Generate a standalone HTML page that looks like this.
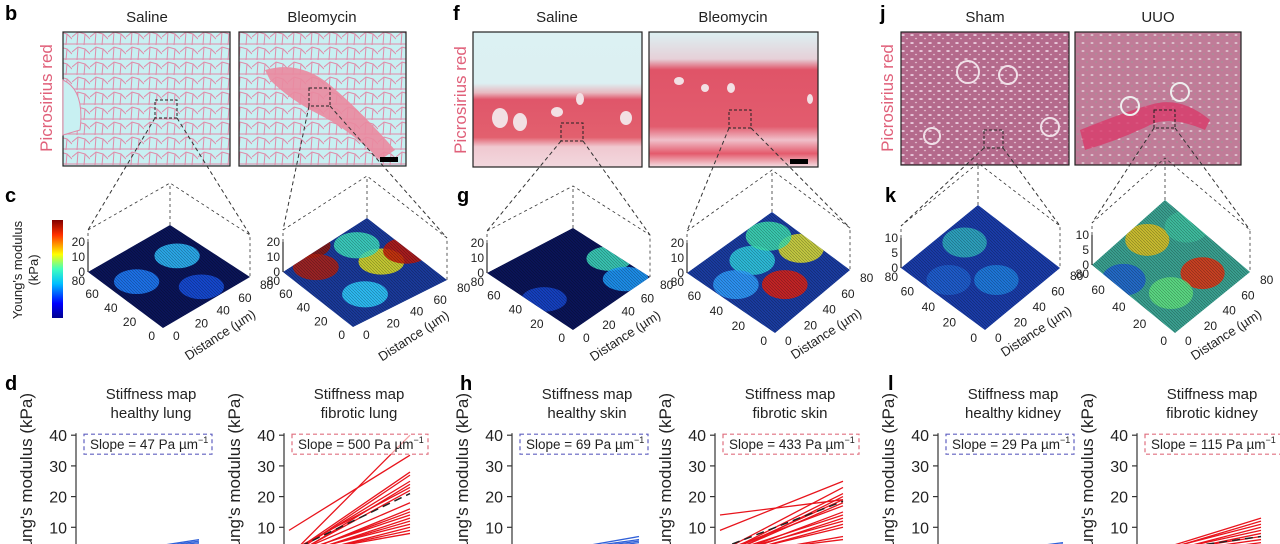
<!DOCTYPE html>
<html><head><meta charset="utf-8"><style>
html,body{margin:0;padding:0;background:#fff;width:1280px;height:544px;overflow:hidden}
svg{display:block;font-family:"Liberation Sans",sans-serif}
</style></head><body>
<svg id="fig" width="1280" height="544" viewBox="0 0 1280 544">
<defs>
<linearGradient id="jet" x1="0" y1="1" x2="0" y2="0">
<stop offset="0" stop-color="#00008f"/><stop offset="0.15" stop-color="#0000ff"/><stop offset="0.35" stop-color="#00bfff"/><stop offset="0.5" stop-color="#40ffbf"/><stop offset="0.65" stop-color="#ffff00"/><stop offset="0.85" stop-color="#ff3000"/><stop offset="1" stop-color="#800000"/></linearGradient>
<linearGradient id="skinA" x1="0" y1="0" x2="0" y2="1">
<stop offset="0" stop-color="#dcf1f3"/><stop offset="0.38" stop-color="#dcf0f2"/><stop offset="0.45" stop-color="#e8b8c0"/><stop offset="0.5" stop-color="#e0566a"/><stop offset="0.78" stop-color="#e2606e"/><stop offset="0.85" stop-color="#f0c8d0"/><stop offset="1" stop-color="#f2d8de"/></linearGradient>
<linearGradient id="skinB" x1="0" y1="0" x2="0" y2="1">
<stop offset="0" stop-color="#dcf0f2"/><stop offset="0.2" stop-color="#e6d0d8"/><stop offset="0.28" stop-color="#e05468"/><stop offset="0.7" stop-color="#e25c6e"/><stop offset="0.8" stop-color="#f0c0ca"/><stop offset="0.9" stop-color="#e45a6c"/><stop offset="1" stop-color="#f4e0e4"/></linearGradient>
<pattern id="alv" width="18" height="15" patternUnits="userSpaceOnUse">
<rect width="18" height="15" fill="#c8f0f2"/><path d="M0 7 L6 2 L13 4 L18 9 M6 2 L5 15 M13 4 L12 15 M0 14 L18 14" stroke="#e08aa8" stroke-width="1" fill="none"/></pattern>
<pattern id="kid" width="9" height="8" patternUnits="userSpaceOnUse">
<rect width="9" height="8" fill="#b46a8c"/><ellipse cx="3" cy="3" rx="1.8" ry="1" fill="#e8c8da"/><ellipse cx="7" cy="6.5" rx="1.2" ry="0.8" fill="#dcb4c8"/></pattern>
<pattern id="kid2" width="9" height="8" patternUnits="userSpaceOnUse">
<rect width="9" height="8" fill="#c07c98"/><ellipse cx="3" cy="3" rx="1.5" ry="1" fill="#dcc0cc"/><ellipse cx="7" cy="6" rx="1.2" ry="0.8" fill="#a89098"/></pattern>
<pattern id="mesh" width="3" height="3" patternUnits="userSpaceOnUse"><path d="M0 0 L3 3" stroke="#000" stroke-opacity="0.35" stroke-width="0.6"/></pattern>
</defs>
<g id="static">
<text x="5" y="20" font-size="20" font-weight="bold">b</text>
<text x="453" y="20" font-size="20" font-weight="bold">f</text>
<text x="880" y="20" font-size="20" font-weight="bold">j</text>
<text x="5" y="202" font-size="20" font-weight="bold">c</text>
<text x="457" y="202" font-size="20" font-weight="bold">g</text>
<text x="885" y="202" font-size="20" font-weight="bold">k</text>
<text x="5" y="390" font-size="20" font-weight="bold">d</text>
<text x="460" y="390" font-size="20" font-weight="bold">h</text>
<text x="888" y="390" font-size="20" font-weight="bold">l</text>
<g font-size="15" text-anchor="middle" fill="#222">
<text x="147" y="22">Saline</text>
<text x="322" y="22">Bleomycin</text>
<text x="557" y="22">Saline</text>
<text x="733" y="22">Bleomycin</text>
<text x="985" y="22">Sham</text>
<text x="1158" y="22">UUO</text>
</g>
<g font-size="17" fill="#e0607a" text-anchor="middle">
<text transform="translate(52,98) rotate(-90)">Picrosirius red</text>
<text transform="translate(466,100) rotate(-90)">Picrosirius red</text>
<text transform="translate(893,98) rotate(-90)">Picrosirius red</text>
</g>
<g><rect x="63" y="32" width="167" height="134" fill="url(#alv)" stroke="#222" stroke-width="1.2"/>
<path d="M63 80 Q85 90 80 130 L63 135Z" fill="#c8f0f2" stroke="#e08aa8"/></g>
<g><rect x="239" y="32" width="167" height="134" fill="url(#alv)"/>
<path d="M265 70 Q300 60 330 85 Q360 110 395 150 L380 160 Q350 130 320 115 Q290 100 270 80Z" fill="#ea8aa0" opacity="0.9"/>
<rect x="239" y="32" width="167" height="134" fill="none" stroke="#222" stroke-width="1.2"/><rect x="380" y="157" width="18" height="5" fill="#000"/></g>
<g><rect x="473" y="32" width="169" height="135" fill="url(#skinA)" stroke="#222" stroke-width="1.2"/>
<ellipse cx="500" cy="118" rx="8" ry="10" fill="#f2e0e4"/><ellipse cx="520" cy="122" rx="7" ry="9" fill="#f2e0e4"/><ellipse cx="557" cy="112" rx="6" ry="5" fill="#f2e0e4"/><ellipse cx="580" cy="99" rx="4" ry="6" fill="#f2e0e4"/><ellipse cx="626" cy="118" rx="6" ry="7" fill="#f2e0e4"/></g>
<g><rect x="649" y="32" width="169" height="135" fill="url(#skinB)" stroke="#222" stroke-width="1.2"/>
<ellipse cx="679" cy="81" rx="5" ry="4" fill="#f2e0e4"/><ellipse cx="705" cy="88" rx="4" ry="4" fill="#f2e0e4"/><ellipse cx="731" cy="88" rx="4" ry="5" fill="#f2e0e4"/><ellipse cx="810" cy="99" rx="3" ry="5" fill="#f2e0e4"/><rect x="790" y="159" width="18" height="5" fill="#000"/></g>
<g><rect x="901" y="32" width="168" height="133" fill="url(#kid)" stroke="#222" stroke-width="1.2"/>
<circle cx="968" cy="72" r="11" fill="none" stroke="#f0e0e8" stroke-width="2"/><circle cx="1008" cy="75" r="9" fill="none" stroke="#f0e0e8" stroke-width="2"/><circle cx="1050" cy="127" r="9" fill="none" stroke="#f0e0e8" stroke-width="2"/><circle cx="932" cy="136" r="8" fill="none" stroke="#f0e0e8" stroke-width="2"/></g>
<g><rect x="1075" y="32" width="166" height="133" fill="url(#kid2)"/>
<path d="M1080 130 Q1130 110 1150 105 Q1180 95 1210 120 L1205 130 Q1170 115 1150 125 Q1120 140 1085 150Z" fill="#d83a6a" opacity="0.8"/>
<circle cx="1130" cy="106" r="9" fill="none" stroke="#eee" stroke-width="2"/><circle cx="1180" cy="92" r="9" fill="none" stroke="#eee" stroke-width="2"/>
<rect x="1075" y="32" width="166" height="133" fill="none" stroke="#222" stroke-width="1.2"/></g>
<rect x="52" y="220" width="11" height="98" fill="url(#jet)"/>
<text transform="translate(22,270) rotate(-90)" font-size="13" text-anchor="middle" fill="#222">Young's modulus</text>
<text transform="translate(38,270) rotate(-90)" font-size="13" text-anchor="middle" fill="#222">(kPa)</text>
</g>
<g id="surfaces"></g>
<g id="charts"></g>
</svg>
<script>
const NS="http://www.w3.org/2000/svg";
const fig=document.getElementById('fig');
function mk(tag,at,parent){const e=document.createElementNS(NS,tag);for(const k in at)e.setAttribute(k,at[k]);(parent||fig).appendChild(e);return e;}

const surfNames=['lung-saline-surface','lung-bleomycin-surface','skin-saline-surface','skin-bleomycin-surface','kidney-sham-surface','kidney-uuo-surface'];
const surfCorners=[
 [[88,272],[170,225],[250,277],[163,328]],
 [[283,272],[367,218],[447,280],[353,327]],
 [[487,273],[573,228],[650,277],[573,330]],
 [[687,273],[772,212],[850,270],[775,333]],
 [[901,268],[978,205],[1060,268],[985,330]],
 [[1092,265],[1165,200],[1250,272],[1175,333]]];
const surfBase=['#0a1458','#1a3a9a','#0a1458','#1a3ca0','#1a3ca8','#3aa090'];
const surfZmax=['20','20','20','20','10','10'];
const surfImg=[[63,230,155,177,100],[239,406,309,330,88],[473,642,561,583,123],[649,818,729,751,110],[901,1069,984,1003,130],[1075,1241,1154,1175,110]];
const blobs=[
 [[0.55,0.3,'#30c0ff'],[0.3,0.55,'#2080ff'],[0.7,0.6,'#1850e0']],
 [[0.15,0.25,'#901808'],[0.2,0.45,'#b02010'],[0.6,0.4,'#e0e020'],[0.5,0.7,'#30d0ff'],[0.75,0.3,'#c01808'],[0.45,0.25,'#40e0c0']],
 [[0.75,0.3,'#40e0c0'],[0.85,0.5,'#20a0ff'],[0.35,0.7,'#1848d0']],
 [[0.6,0.6,'#e02010'],[0.4,0.4,'#30d0e0'],[0.7,0.3,'#e0e030'],[0.3,0.6,'#30a0ff'],[0.5,0.2,'#40e0b0']],
 [[0.4,0.3,'#30b0c0'],[0.6,0.6,'#2080e0'],[0.3,0.6,'#2060d0']],
 [[0.7,0.55,'#e03010'],[0.35,0.3,'#e0c020'],[0.5,0.7,'#60e080'],[0.2,0.6,'#2060d0'],[0.6,0.2,'#40c0a0']]];
const sg=document.getElementById('surfaces');
surfCorners.forEach((c,i)=>{
 const g=mk('g',{},sg);
 
 
 const [L,T,R,B]=c, h=30;
 const up=p=>[p[0],p[1]-h-12];
 const im=surfImg[i];
 mk('rect',{x:im[2],y:im[4],width:im[3]-im[2],height:18,fill:'none',stroke:'#222','stroke-dasharray':'3 2'},g);
 mk('line',{x1:im[2],y1:im[4]+18,x2:up(L)[0],y2:up(L)[1],stroke:'#333','stroke-dasharray':'4 3','stroke-width':1},g);
 mk('line',{x1:im[3],y1:im[4]+18,x2:up(R)[0],y2:up(R)[1],stroke:'#333','stroke-dasharray':'4 3','stroke-width':1},g);
 const uL=up(L),uT=up(T),uR=up(R);
 mk('polyline',{points:[L,uL,uT,uR,R].map(p=>p.join(',')).join(' '),fill:'none',stroke:'#333','stroke-dasharray':'3 3','stroke-width':0.8},g);
 mk('line',{x1:T[0],y1:T[1],x2:uT[0],y2:uT[1],stroke:'#333','stroke-dasharray':'3 3','stroke-width':0.8},g);
 const pts=[L,T,R,B].map(p=>p.join(',')).join(' ');
 const cid='clip'+i;
 const cp=mk('clipPath',{id:cid},g); mk('polygon',{points:pts},cp);
 mk('polygon',{points:pts,fill:surfBase[i]},g);
 const bg=mk('g',{'clip-path':'url(#'+cid+')'},g);
 blobs[i].forEach(b=>{
   const x=L[0]+(R[0]-L[0])*b[0], y=T[1]+(B[1]-T[1])*b[1];
   mk('ellipse',{cx:x,cy:y,rx:(R[0]-L[0])*0.14,ry:(B[1]-T[1])*0.12,fill:b[2],opacity:0.85},bg);
 });
 mk('polygon',{points:pts,fill:'url(#mesh)'},g);
 mk('line',{x1:L[0],y1:L[1],x2:L[0],y2:L[1]-h,stroke:'#000'},g);
 [['0',0],[surfZmax[i]==='20'?'10':'5',0.5],[surfZmax[i],1]].forEach(t=>{
   mk('text',{x:L[0]-3,y:L[1]-h*t[1]+4,'font-size':12,'text-anchor':'end',fill:'#222'},g).textContent=t[0];
 });
 mk('text',{x:L[0]-3,y:L[1]+13,'font-size':12,'text-anchor':'end',fill:'#222'},g).textContent='80';
 ['60','40','20','0'].forEach((t,k)=>{const f=(k+1)/4;
   mk('text',{x:L[0]+(B[0]-L[0])*f-8,y:L[1]+(B[1]-L[1])*f+12,'font-size':12,'text-anchor':'end',fill:'#222'},g).textContent=t;});
 ['0','20','40','60','80'].forEach((t,k)=>{const f=k/4;
   mk('text',{x:B[0]+(R[0]-B[0])*f+10,y:B[1]+(R[1]-B[1])*f+12,'font-size':12,'text-anchor':'start',fill:'#222'},g).textContent=t;});
 const mx=(B[0]+R[0])/2+16,my=(B[1]+R[1])/2+36;
 mk('text',{transform:`translate(${mx},${my}) rotate(-33)`,'font-size':13,'text-anchor':'middle',fill:'#222'},g).textContent='Distance (µm)';
});

const chartNames=['healthy-lung-chart','fibrotic-lung-chart','healthy-skin-chart','fibrotic-skin-chart','healthy-kidney-chart','fibrotic-kidney-chart'];
const chartTitles=['healthy lung','fibrotic lung','healthy skin','fibrotic skin','healthy kidney','fibrotic kidney'];
const slopeLabels=['47 Pa','500 Pa','69 Pa','433  Pa','29 Pa','115 Pa'];
const yTicks=[10,20,30,40];
const xDomain=[0,80];
const healthyLungStart=[0,0,0.3,0.5];
const healthyLungEnd=[6,5.5,5,4.5];
const fibroticLungStart=[0.5,9,1,0.5,1,0,2,0.5,1,0,0.5,1,0,0.5,1,0,0.5,1];
const fibroticLungEnd=[40,33.5,28,27,25,24,23,22,18,16,15,14,13,12,11,10,9,8];
const fibroticLungMean=[2,21];
const healthySkinStart=[0,0.5,0.3,0];
const healthySkinEnd=[7,6,5.5,5];
const fibroticSkinStart=[14,9,2,1,0,1,0.5,2,0,1,0,1,0,0.5,0,1];
const fibroticSkinEnd=[19,25,23,21,20,19,18,17,15,14,13,12,11,10,7,6];
const fibroticSkinMean=[3,18.5];
const healthyKidneyStart=[0,0.3,0.5];
const healthyKidneyEnd=[5,4.5,4];
const fibroticKidneyStart=[1,0.5,1,0,0.5,0,1,0.5,0];
const fibroticKidneyEnd=[13,12,11,10,9,8,7,6,5];
const fibroticKidneyMean=[1.5,7];
const chartStarts=[healthyLungStart,fibroticLungStart,healthySkinStart,fibroticSkinStart,healthyKidneyStart,fibroticKidneyStart];
const chartEnds=[healthyLungEnd,fibroticLungEnd,healthySkinEnd,fibroticSkinEnd,healthyKidneyEnd,fibroticKidneyEnd];
const chartMeans=[null,fibroticLungMean,null,fibroticSkinMean,null,fibroticKidneyMean];
const axisX=[76,284,512,715,938,1137];
const plotW=[118,121,122,123,120,119];
const cg=document.getElementById('charts');
const yScale=v=>558-v*3.07;
chartNames.forEach((nm,i)=>{
 const g=mk('g',{},cg);
 
 
 const ax=axisX[i], fib=i%2===1, col=fib?'#e8141c':'#3060d8';
 const xScale=v=>ax+5+(v-xDomain[0])/(xDomain[1]-xDomain[0])*plotW[i];
 const cx=ax+75;
 const t1=mk('text',{x:cx,y:399,'font-size':15,'text-anchor':'middle',fill:'#222'},g);t1.textContent='Stiffness map';
 
 
 const t2=mk('text',{x:cx,y:418,'font-size':15,'text-anchor':'middle',fill:'#222'},g);t2.textContent=chartTitles[i];
 
 
 const yl=mk('text',{transform:`translate(${ax-44},393) rotate(-90)`,'font-size':17,'text-anchor':'end',fill:'#222'},g);yl.textContent="Young's modulus (kPa)";
 
 
 const al=mk('line',{x1:ax,y1:yScale(40)-2,x2:ax,y2:544,stroke:'#333','stroke-width':1.2},g);
 
 
 yTicks.forEach(v=>{
  mk('line',{x1:ax-5,y1:yScale(v),x2:ax,y2:yScale(v),stroke:'#333','stroke-width':1.2},g);
  const tl=mk('text',{x:ax-9,y:yScale(v)+6,'font-size':16,'text-anchor':'end',fill:'#222'},g);tl.textContent=v;
  
  
 });
 chartStarts[i].forEach((s,k)=>{
  const ln=mk('line',{x1:xScale(0),y1:yScale(s),x2:xScale(80),y2:yScale(chartEnds[i][k]),stroke:col,'stroke-width':1.3},g);
  
  
 });
 if(chartMeans[i]){
  const m=mk('line',{x1:xScale(0),y1:yScale(chartMeans[i][0]),x2:xScale(80),y2:yScale(chartMeans[i][1]),stroke:'#222','stroke-width':1.5,'stroke-dasharray':'8 5'},g);
  
  
 }
 const bw=fib?136:128;
 const bx=ax+8;
 const box=mk('rect',{x:bx,y:yScale(40)-1,width:bw,height:20,fill:'#fff','fill-opacity':0.6,stroke:fib?'#e07080':'#6060c0','stroke-dasharray':'4 3','stroke-width':1.2},g);
 
 
 const st=mk('text',{x:bx+6,y:yScale(40)+14,'font-size':13.5,fill:'#222'},g);
 st.textContent='Slope = '+slopeLabels[i]+' µm';
 const sup=mk('tspan',{dy:-6,'font-size':9},st);sup.textContent='−1';
 
 
});
</script>
</body></html>
